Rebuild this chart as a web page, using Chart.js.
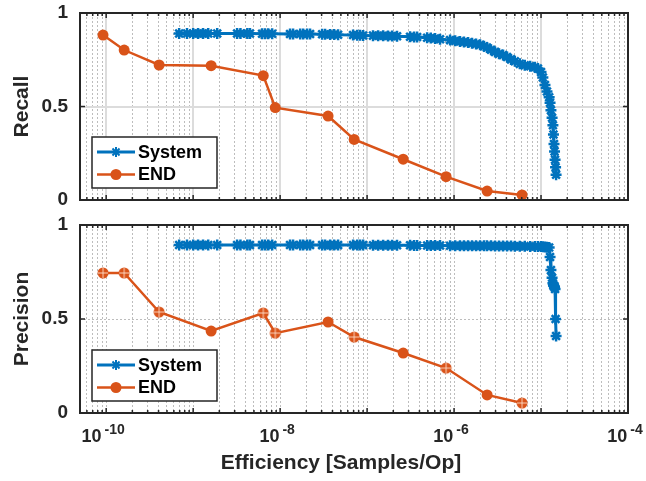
<!DOCTYPE html>
<html lang="en">
<head>
<meta charset="UTF-8">
<title>Recall / Precision vs Efficiency</title>
<script src="https://cdn.jsdelivr.net/npm/chart.js@4.4.1/dist/chart.umd.min.js"></script>
<style>
  html, body { margin: 0; padding: 0; background: #fff; }
  #wrap { position: relative; width: 646px; height: 481px; }
  #recallChart { position: absolute; left: 0; top: 0; }
  #precisionChart { position: absolute; left: 0; top: 215px; }
</style>
</head>
<body>
<div id="wrap">
  <canvas id="recallChart" width="646" height="215"></canvas>
  <canvas id="precisionChart" width="646" height="266"></canvas>
</div>
<script>
// ---- data ----
const endEff = [9.2e-11, 1.61e-10, 4.06e-10, 1.61e-9, 6.4e-9, 8.8e-9, 3.56e-8, 7.1e-8, 2.6e-7, 8.1e-7, 2.4e-6, 6.05e-6];
const endRecall = [0.882, 0.802, 0.722, 0.718, 0.665, 0.494, 0.449, 0.324, 0.218, 0.125, 0.048, 0.027];
const endPrecision = [0.745, 0.745, 0.537, 0.436, 0.532, 0.425, 0.484, 0.404, 0.319, 0.239, 0.096, 0.053];

const sysEff = [
  6.9e-10, 8.5e-10, 1.0e-9, 1.14e-9, 1.30e-9, 1.49e-9, 1.89e-9, 3.2e-9, 3.5e-9, 4.2e-9,
  4.5e-9, 6.2e-9, 6.7e-9, 7.3e-9, 8.1e-9, 1.30e-8, 1.41e-8, 1.70e-8, 1.84e-8, 2.04e-8,
  2.21e-8, 3.04e-8, 3.29e-8, 3.76e-8, 4.18e-8, 4.64e-8, 6.9e-8, 7.7e-8, 8.3e-8, 9.0e-8,
  1.17e-7, 1.34e-7, 1.53e-7, 1.74e-7, 1.94e-7, 2.21e-7, 3.12e-7, 3.47e-7, 3.76e-7, 4.9e-7,
  5.4e-7, 6.05e-7, 6.9e-7, 9.0e-7, 1.03e-6, 1.17e-6, 1.30e-6, 1.45e-6, 1.61e-6, 1.79e-6,
  1.99e-6, 2.21e-6, 2.39e-6, 2.66e-6, 2.96e-6, 3.29e-6, 3.66e-6, 4.07e-6, 4.52e-6, 5.0e-6,
  5.7e-6, 6.5e-6, 7.5e-6, 8.5e-6, 9.2e-6, 1.0e-5, 1.05e-5, 1.11e-5, 1.17e-5, 1.24e-5,
  1.27e-5, 1.30e-5, 1.34e-5, 1.37e-5, 1.39e-5, 1.41e-5, 1.43e-5, 1.45e-5, 1.47e-5, 1.49e-5
];
const sysRecall = [
  0.890, 0.890, 0.890, 0.890, 0.890, 0.890, 0.890, 0.890, 0.890, 0.890,
  0.890, 0.889, 0.889, 0.889, 0.889, 0.888, 0.888, 0.888, 0.888, 0.888,
  0.888, 0.886, 0.886, 0.885, 0.885, 0.884, 0.882, 0.881, 0.881, 0.880,
  0.879, 0.878, 0.878, 0.877, 0.877, 0.876, 0.873, 0.872, 0.872, 0.868,
  0.866, 0.864, 0.860, 0.855, 0.851, 0.848, 0.845, 0.842, 0.838, 0.834,
  0.830, 0.822, 0.815, 0.803, 0.792, 0.782, 0.775, 0.765, 0.752, 0.742,
  0.728, 0.720, 0.715, 0.710, 0.703, 0.685, 0.655, 0.615, 0.580, 0.550,
  0.520, 0.480, 0.440, 0.400, 0.350, 0.300, 0.260, 0.215, 0.175, 0.135
];
const sysPrecision = [
  0.894, 0.894, 0.894, 0.894, 0.894, 0.894, 0.894, 0.894, 0.894, 0.894,
  0.894, 0.894, 0.894, 0.894, 0.894, 0.894, 0.894, 0.894, 0.894, 0.894,
  0.894, 0.893, 0.893, 0.893, 0.893, 0.893, 0.893, 0.893, 0.893, 0.893,
  0.892, 0.892, 0.892, 0.892, 0.892, 0.892, 0.892, 0.891, 0.891, 0.891,
  0.891, 0.891, 0.891, 0.890, 0.890, 0.890, 0.890, 0.890, 0.890, 0.889,
  0.889, 0.889, 0.889, 0.889, 0.888, 0.888, 0.888, 0.888, 0.888, 0.887,
  0.887, 0.887, 0.886, 0.886, 0.885, 0.885, 0.884, 0.883, 0.882, 0.880,
  0.830, 0.760, 0.720, 0.690, 0.680, 0.675, 0.670, 0.660, 0.500, 0.410
];

const xMin = 5e-11, xMax = 1e-4;
const yTickValues = [0, 0.5, 1];
const xLabelExps = [-10, -8, -6, -4];
// END points in the precision panel that show the crossed marker
const endCrossedIdx = [0, 1, 2, 4, 5, 7, 9, 11];

const BLUE = '#0072BD', ORANGE = '#D95319', INK = '#262626';
const FONT = '"Liberation Sans", Arial, Helvetica, sans-serif';

function gridTicks() {
  const t = [];
  for (let e = -11; e <= -4; e++) {
    for (let m = 1; m <= 9; m++) {
      const v = m * Math.pow(10, e);
      if (v >= xMin * 0.999 && v <= xMax * 1.001) t.push({ value: v, major: m === 1 });
    }
  }
  return t;
}

function crossedMarker() {
  const c = document.createElement('canvas');
  c.width = 14; c.height = 14;
  const g = c.getContext('2d');
  g.fillStyle = ORANGE;
  g.beginPath(); g.arc(7, 7, 5.5, 0, Math.PI * 2); g.fill();
  g.strokeStyle = 'rgba(255,225,205,0.9)';
  g.lineWidth = 1;
  g.beginPath(); g.moveTo(7, 2); g.lineTo(7, 12); g.moveTo(2, 7); g.lineTo(12, 7); g.stroke();
  return c;
}
const crossedImg = crossedMarker();

// box, inward tick marks
const framePlugin = {
  id: 'frame',
  afterDatasetsDraw(chart) {
    const { ctx, chartArea: a, scales: { x, y } } = chart;
    ctx.save();
    ctx.strokeStyle = INK;
    ctx.lineWidth = 1.5;
    x.ticks.forEach(t => {
      const px = x.getPixelForValue(t.value);
      const len = t.major ? 5 : 3;
      ctx.beginPath();
      ctx.moveTo(px, a.top); ctx.lineTo(px, a.top + len);
      ctx.moveTo(px, a.bottom); ctx.lineTo(px, a.bottom - len);
      ctx.stroke();
    });
    y.ticks.forEach(t => {
      const py = y.getPixelForValue(t.value);
      ctx.beginPath();
      ctx.moveTo(a.left, py); ctx.lineTo(a.left + 5, py);
      ctx.moveTo(a.right, py); ctx.lineTo(a.right - 5, py);
      ctx.stroke();
    });
    ctx.lineWidth = 2;
    ctx.strokeRect(a.left, a.top, a.right - a.left, a.bottom - a.top);
    ctx.restore();
  }
};

// legend drawn inside the axes, lower left
const boxLegend = {
  id: 'boxLegend',
  afterDraw(chart) {
    const { ctx, chartArea: a } = chart;
    const bx = a.left + 12, by = a.bottom - 63, bw = 125, bh = 51;
    ctx.save();
    ctx.fillStyle = '#fff';
    ctx.fillRect(bx, by, bw, bh);
    ctx.strokeStyle = INK;
    ctx.lineWidth = 1.5;
    ctx.strokeRect(bx, by, bw, bh);
    chart.data.datasets.forEach((ds, i) => {
      const cy = by + 15 + i * 22.5;
      ctx.strokeStyle = ds.borderColor;
      ctx.lineWidth = ds.borderWidth;
      ctx.beginPath(); ctx.moveTo(bx + 5, cy); ctx.lineTo(bx + 43, cy); ctx.stroke();
      const mx = bx + 24;
      if (ds.label === 'System') {
        ctx.lineWidth = 2;
        const r = 5;
        ctx.beginPath();
        for (let k = 0; k < 4; k++) {
          const ang = k * Math.PI / 4;
          ctx.moveTo(mx - r * Math.cos(ang), cy - r * Math.sin(ang));
          ctx.lineTo(mx + r * Math.cos(ang), cy + r * Math.sin(ang));
        }
        ctx.stroke();
      } else {
        ctx.fillStyle = ds.borderColor;
        ctx.beginPath(); ctx.arc(mx, cy, 5.5, 0, Math.PI * 2); ctx.fill();
      }
      ctx.fillStyle = '#000';
      ctx.font = 'bold 18px ' + FONT;
      ctx.textAlign = 'left';
      ctx.textBaseline = 'middle';
      ctx.fillText(ds.label, bx + 46, cy + 1);
    });
    ctx.restore();
  }
};

// 10^n labels and x title (bottom panel only)
const xLabels = {
  id: 'xLabels',
  afterDraw(chart) {
    const { ctx, scales: { x } } = chart;
    const ly = chart.chartArea.bottom + 24;
    ctx.save();
    ctx.fillStyle = INK;
    ctx.textBaseline = 'middle';
    ctx.textAlign = 'left';
    xLabelExps.forEach(e => {
      const px = x.getPixelForValue(Math.pow(10, e));
      ctx.font = 'bold 18px ' + FONT;
      const w1 = ctx.measureText('10').width;
      ctx.font = 'bold 14px ' + FONT;
      const sup = '-' + Math.abs(e);
      const w2 = ctx.measureText(sup).width;
      const start = px - (w1 + 3 + w2) / 2 - 3;
      ctx.font = 'bold 18px ' + FONT;
      ctx.fillText('10', start, ly);
      ctx.font = 'bold 14px ' + FONT;
      ctx.fillText(sup, start + w1 + 3, ly - 7);
    });
    ctx.font = 'bold 21px ' + FONT;
    ctx.textAlign = 'center';
    ctx.fillText('Efficiency [Samples/Op]', 341, chart.chartArea.bottom + 50);
    ctx.restore();
  }
};

function makeChart(id, yTitle, sysY, endY, opt) {
  const bottomPanel = opt.bottomPanel;
  const dotted = [2, 2];
  return new Chart(document.getElementById(id), {
    type: 'line',
    data: {
      datasets: [
        {
          label: 'System',
          data: sysEff.map((v, i) => ({ x: v, y: sysY[i] })),
          borderColor: BLUE,
          backgroundColor: BLUE,
          borderWidth: 3,
          pointStyle: 'star',
          pointRadius: 5.5,
          pointBorderWidth: 2.5,
          pointBorderColor: BLUE,
          pointBackgroundColor: BLUE
        },
        {
          label: 'END',
          data: endEff.map((v, i) => ({ x: v, y: endY[i] })),
          borderColor: ORANGE,
          backgroundColor: ORANGE,
          borderWidth: 2.5,
          pointStyle: ctx => (bottomPanel && endCrossedIdx.includes(ctx.dataIndex)) ? crossedImg : 'circle',
          pointRadius: 5.5,
          pointBorderWidth: 0,
          pointBackgroundColor: ORANGE
        }
      ]
    },
    options: {
      responsive: false,
      animation: false,
      layout: { padding: { top: opt.padTop, right: 18, left: 0, bottom: 0 } },
      plugins: { legend: { display: false }, tooltip: { enabled: false } },
      scales: {
        x: {
          type: 'logarithmic',
          min: xMin,
          max: xMax,
          afterBuildTicks: s => { s.ticks = gridTicks(); },
          afterFit: s => { s.height = opt.xHeight; s.paddingLeft = 0; s.paddingRight = 0; },
          ticks: { display: false },
          grid: {
            drawTicks: false,
            color: c => (!bottomPanel && c.tick && c.tick.major) ? '#dcdcdc' : '#bdbdbd',
            lineWidth: c => (!bottomPanel && c.tick && c.tick.major) ? 2 : 1
          },
          border: {
            display: false,
            dash: c => (!bottomPanel && c.tick && c.tick.major) ? [] : dotted
          }
        },
        y: {
          min: 0,
          max: 1,
          afterBuildTicks: s => { s.ticks = yTickValues.map(v => ({ value: v })); },
          afterFit: s => { s.width = 80; s.paddingTop = 0; s.paddingBottom = 0; },
          ticks: {
            color: INK,
            padding: 12,
            font: { family: FONT, size: 19, weight: 'bold' },
            callback: v => (v === 0.5 ? '0.5' : String(v))
          },
          grid: {
            drawTicks: false,
            color: c => {
              if (!c.tick || c.tick.value === 0 || c.tick.value === 1) return 'rgba(0,0,0,0)';
              return bottomPanel ? '#bdbdbd' : '#dcdcdc';
            },
            lineWidth: bottomPanel ? 1 : 2
          },
          border: { display: false, dash: bottomPanel ? dotted : [] },
          title: {
            display: true,
            text: yTitle,
            color: INK,
            font: { family: FONT, size: 21, weight: 'bold' },
            padding: { top: 10, bottom: 0 }
          }
        }
      }
    },
    plugins: bottomPanel ? [framePlugin, boxLegend, xLabels] : [framePlugin, boxLegend]
  });
}

makeChart('recallChart', 'Recall', sysRecall, endRecall, { padTop: 13, xHeight: 15, bottomPanel: false });
makeChart('precisionChart', 'Precision', sysPrecision, endPrecision, { padTop: 10, xHeight: 68, bottomPanel: true });
</script>
</body>
</html>
